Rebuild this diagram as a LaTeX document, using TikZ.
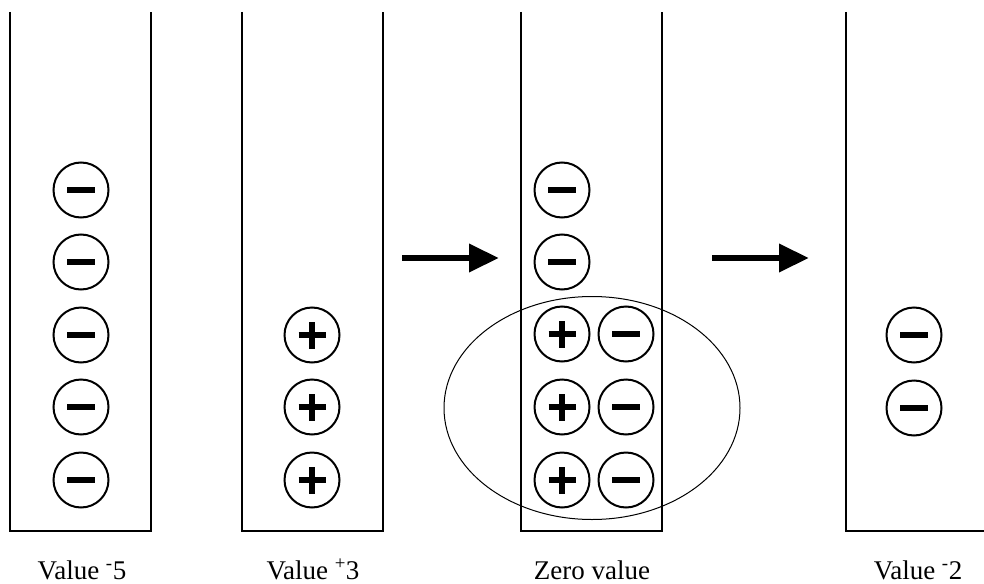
\documentclass[tikz,border=0pt]{standalone}
\usepackage{fontspec}
\setmainfont{Liberation Serif}
\usetikzlibrary{arrows.meta,shapes.geometric}
\begin{document}
\begin{tikzpicture}[x=1pt,y=-1pt,
  wall/.style={line width=2.8pt, line join=miter},
  chg/.style={circle, draw, line width=2pt, minimum size=55pt, inner sep=0pt},
  negchg/.style={chg, path picture={
    \draw[line width=6.5pt] ([xshift=-14pt]path picture bounding box.center) -- ([xshift=14pt]path picture bounding box.center);}},
  poschg/.style={chg, path picture={
    \draw[line width=5.5pt] ([xshift=-13.5pt]path picture bounding box.center) -- ([xshift=13.5pt]path picture bounding box.center);
    \draw[line width=5.5pt] ([yshift=-13.5pt]path picture bounding box.center) -- ([yshift=13.5pt]path picture bounding box.center);}},
  bigarrow/.style={line width=6.5pt, -{Triangle[length=30pt,width=27pt]}},
  lab/.style={anchor=base, font=\fontsize{27}{32}\selectfont, inner sep=0pt}
]
\useasboundingbox (0,0) rectangle (984,583);
% containers
\draw[wall] (10,12) -- (10,531) -- (151,531) -- (151,12);
\draw[wall] (242,12) -- (242,531) -- (383,531) -- (383,12);
\draw[wall] (521,12) -- (521,531) -- (662,531) -- (662,12);
\draw[wall] (846,12) -- (846,531) -- (986,531);
% ellipse
\node[draw, ellipse, line width=1pt, minimum width=296pt, minimum height=223pt, inner sep=0pt] (grp) at (592,408) {};
% container 1
\node[negchg] (a1) at (81,190) {};
\node[negchg] (a2) at (81,262) {};
\node[negchg] (a3) at (81,335) {};
\node[negchg] (a4) at (81,407) {};
\node[negchg] (a5) at (81,480) {};
% container 2
\node[poschg] (b1) at (312,335) {};
\node[poschg] (b2) at (312,407) {};
\node[poschg] (b3) at (312,480) {};
% container 3
\node[negchg] (c1) at (562,190) {};
\node[negchg] (c2) at (562,262) {};
\node[poschg] (c3) at (562,334) {};
\node[poschg] (c4) at (562,407) {};
\node[poschg] (c5) at (562,480) {};
\node[negchg] (c6) at (626,334) {};
\node[negchg] (c7) at (626,407) {};
\node[negchg] (c8) at (626,480) {};
% container 4
\node[negchg] (d1) at (914,335) {};
\node[negchg] (d2) at (914,408) {};
% arrows
\coordinate (p1s) at (402,258);
\coordinate (p1e) at (499,258);
\coordinate (p2s) at (712,258);
\coordinate (p2e) at (809,258);
\draw[bigarrow] (p1s) -- (p1e);
\draw[bigarrow] (p2s) -- (p2e);
% labels
\node[lab] (l1) at (82,579) {Value \textsuperscript{-}5};
\node[lab] (l2) at (313,579) {Value \textsuperscript{+}3};
\node[lab] (l3) at (592,579) {Zero value};
\node[lab] (l4) at (918,579) {Value \textsuperscript{-}2};
\end{tikzpicture}
\end{document}
